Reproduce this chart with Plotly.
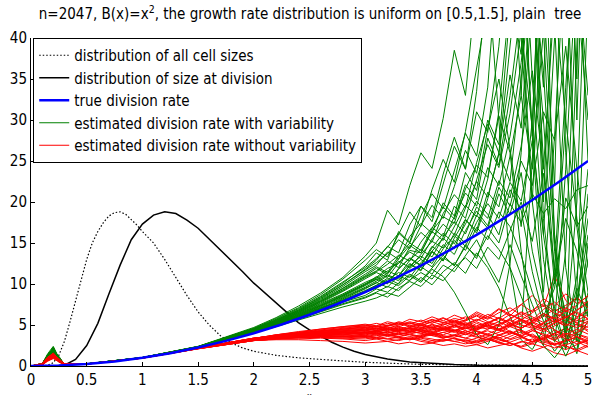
import plotly.graph_objects as go

# ---------------- data ----------------
# size distributions
x_all = [0, 0.1, 0.15, 0.2, 0.25, 0.3, 0.35, 0.4, 0.45, 0.5, 0.55, 0.6, 0.65, 0.7, 0.75, 0.8, 0.85, 0.9,
         0.95, 1.0, 1.1, 1.2, 1.3, 1.4, 1.5, 1.6, 1.7, 1.8, 1.9, 2.0, 2.2, 2.4, 2.6, 2.8, 3.0, 3.5, 4.0, 4.5, 5.0]
dens_all = [0, 0, 0.1, 0.4, 1.3, 3.0, 5.4, 8.0, 10.7, 13.0, 15.0, 16.4, 17.5, 18.3, 18.7, 18.8, 18.5, 17.9,
            17.2, 16.4, 15.0, 13.0, 10.8, 8.6, 6.6, 5.0, 3.7, 2.8, 2.2, 1.8, 1.3, 1.0, 0.8, 0.6, 0.45, 0.2, 0.1, 0.05, 0.02]

x_div = [0, 0.1, 0.2, 0.3, 0.4, 0.5, 0.6, 0.7, 0.8, 0.9, 1.0, 1.1, 1.2, 1.3, 1.4, 1.5, 1.6, 1.7, 1.8, 1.9,
         2.0, 2.1, 2.2, 2.3, 2.4, 2.5, 2.6, 2.7, 2.8, 2.9, 3.0, 3.2, 3.4, 3.6, 3.8, 4.0, 4.5, 5.0]
dens_div = [0, 0, 0, 0.1, 0.8, 2.5, 5.2, 8.8, 12.3, 15.4, 17.3, 18.4, 18.8, 18.6, 17.8, 16.8, 15.5, 14.2, 12.9, 11.5,
            10.1, 8.9, 7.6, 6.4, 5.3, 4.4, 3.6, 2.9, 2.3, 1.8, 1.4, 0.85, 0.5, 0.3, 0.18, 0.1, 0.03, 0]

# true division rate
x_true = [0, 0.25, 0.5, 0.75, 1.0, 1.25, 1.5, 1.75, 2.0, 2.25, 2.5, 2.75, 3.0, 3.25, 3.5, 3.75, 4.0, 4.25, 4.5, 4.75, 5.0]
b_true = [0, 0.06, 0.25, 0.56, 1.0, 1.56, 2.25, 3.06, 4.0, 5.06, 6.25, 7.56, 9.0, 10.56, 12.25, 14.06, 16.0, 18.06,
          20.25, 22.56, 25.0]

# estimated rates (common x grid)
x_est = [0, 0.1, 0.15, 0.2, 0.25, 0.3, 0.5, 1.0, 1.5, 2.0, 2.2, 2.4, 2.6, 2.8, 3.0, 3.1, 3.2, 3.3, 3.4, 3.5,
         3.6, 3.7, 3.8, 3.9, 4.0, 4.1, 4.2, 4.3, 4.4, 4.5, 4.6, 4.7, 4.8, 4.9, 5.0]

green_01 = [0, 0.1, 1.1, 2.3, 0.8, 0.25, 0.26, 1.02, 2.33, 4.3, 5.3, 6.4, 7.6, 8.8, 10.2, 10.8, 11.9, 12.5, 14.1, 13.8, 16.5, 18.2, 17.4, 21.6, 24.5, 23.0, 31.0, 45, 38, 62, 20, 55, 80, 30, 70]
green_02 = [0, 0.2, 1.4, 1.9, 0.6, 0.3, 0.25, 1.01, 2.29, 4.1, 4.9, 5.9, 6.9, 7.8, 8.6, 9.4, 9.0, 10.1, 11.2, 10.4, 12.0, 13.5, 12.2, 14.8, 13.1, 16.9, 15.0, 19.8, 17.5, 21.0, 18.6, 20.4, 19.2, 21.5, 22.0]
green_03 = [0, 0.1, 0.8, 1.6, 1.2, 0.2, 0.27, 1.03, 2.36, 4.5, 5.6, 6.8, 8.2, 9.9, 11.8, 12.9, 14.6, 13.8, 17.2, 19.5, 18.1, 23.4, 27.9, 24.0, 33.5, 48, 30, 12, 4, 25, 60, 15, 3, 40, 75]
green_04 = [0, 0.3, 1.3, 2.1, 0.5, 0.2, 0.25, 1.0, 2.30, 4.2, 5.1, 6.1, 7.1, 8.0, 9.1, 9.8, 10.7, 10.0, 12.4, 11.6, 13.9, 12.8, 15.6, 17.9, 16.2, 20.4, 26.0, 22.5, 35.0, 50, 18, 6, 2, 9, 45]
green_05 = [0, 0.1, 0.9, 1.2, 0.9, 0.3, 0.25, 0.99, 2.27, 4.0, 4.8, 5.6, 6.4, 7.2, 7.9, 8.3, 8.9, 8.5, 9.6, 10.8, 9.9, 11.5, 12.6, 11.3, 13.8, 12.0, 9.5, 6.0, 3.2, 2.0, 4.5, 10.5, 18.0, 14.0, 7.0]
green_06 = [0, 0.2, 1.5, 2.4, 1.0, 0.2, 0.27, 1.04, 2.38, 4.6, 5.8, 7.1, 8.7, 10.6, 12.9, 14.2, 13.3, 16.0, 18.8, 17.0, 21.5, 25.2, 22.4, 28.6, 36.0, 44, 62, 75, 40, 20, 50, 85, 60, 35, 90]
green_07 = [0, 0.1, 1.0, 1.8, 0.7, 0.3, 0.26, 1.02, 2.33, 4.4, 5.4, 6.6, 7.9, 9.3, 10.9, 11.6, 12.8, 12.0, 14.5, 16.3, 15.1, 18.6, 20.9, 19.3, 24.8, 29.5, 26.0, 38, 52, 28, 8, 3, 14, 46, 30]
green_08 = [0, 0.2, 1.2, 1.5, 1.1, 0.2, 0.25, 1.01, 2.31, 4.2, 5.0, 6.0, 7.0, 8.2, 9.4, 10.2, 9.6, 11.0, 12.5, 11.7, 14.0, 15.6, 14.3, 17.8, 16.5, 21.2, 19.4, 25.6, 33.0, 24.0, 41, 16, 5, 1.5, 8]
green_09 = [0, 0.1, 0.7, 2.0, 0.6, 0.2, 0.26, 1.02, 2.32, 4.3, 5.2, 6.3, 7.4, 8.5, 9.8, 10.5, 11.3, 12.8, 12.0, 13.6, 15.2, 14.4, 17.0, 19.6, 18.2, 22.8, 30.5, 26.0, 14, 5, 2.5, 12, 34, 55, 40]
green_10 = [0, 0.2, 1.1, 1.3, 0.8, 0.3, 0.25, 1.0, 2.28, 4.1, 5.0, 5.8, 6.7, 7.6, 8.4, 9.0, 9.7, 9.2, 10.5, 11.4, 10.6, 12.3, 11.5, 13.5, 15.4, 12.6, 10.2, 14.8, 11.0, 7.5, 4.0, 1.8, 3.5, 11.0, 24]
green_11 = [0, 0.1, 1.3, 2.2, 0.9, 0.2, 0.28, 1.05, 2.40, 4.7, 5.9, 7.3, 8.9, 10.8, 13.4, 15.0, 19.0, 17.2, 22.0, 26.0, 24.1, 30.2, 38.5, 33.0, 47, 58, 42, 70, 55, 28, 65, 80, 48, 95, 60]
green_12 = [0, 0.2, 0.9, 1.7, 1.0, 0.3, 0.26, 1.03, 2.35, 4.4, 5.5, 6.7, 8.0, 9.5, 11.2, 12.1, 11.4, 13.4, 15.0, 14.1, 16.8, 19.4, 17.9, 22.1, 20.3, 27.8, 24.5, 33.0, 44, 20, 9, 28, 52, 17, 6]
green_13 = [0, 0.1, 1.0, 1.4, 0.6, 0.2, 0.25, 0.99, 2.27, 4.0, 4.9, 5.7, 6.6, 7.5, 8.3, 8.9, 8.4, 9.5, 10.3, 9.7, 11.1, 10.4, 12.0, 13.2, 11.9, 14.5, 13.0, 16.4, 20.0, 15.2, 23.5, 12.0, 6.5, 3.0, 5.5]
green_14 = [0, 0.3, 1.4, 2.0, 0.8, 0.2, 0.27, 1.04, 2.37, 4.5, 5.6, 6.9, 8.4, 10.1, 12.2, 13.8, 12.9, 16.4, 15.1, 19.5, 17.6, 22.3, 26.8, 24.0, 31.0, 28.5, 39, 55, 33, 64, 45, 22, 70, 52, 88]
green_15 = [0, 0.1, 0.8, 1.6, 0.7, 0.3, 0.25, 1.01, 2.30, 4.2, 5.2, 6.2, 7.3, 8.6, 9.9, 10.9, 10.1, 11.8, 13.2, 12.3, 14.6, 13.5, 16.2, 15.0, 18.4, 16.8, 21.0, 18.5, 23.6, 14.0, 8.0, 4.2, 1.2, 4.0, 13.0]
green_16 = [0, 0.2, 1.2, 1.9, 1.1, 0.2, 0.26, 1.02, 2.33, 4.3, 5.3, 6.5, 7.7, 9.1, 10.6, 11.4, 10.8, 12.6, 13.9, 13.1, 15.5, 17.3, 16.0, 19.2, 22.5, 20.6, 25.9, 35.5, 29.0, 48, 36, 14, 4, 20, 58]
green_17 = [0, 0.1, 1.0, 1.7, 0.9, 0.2, 0.26, 1.02, 2.32, 4.2, 5.1, 6.0, 7.0, 8.0, 9.0, 9.6, 10.3, 9.8, 11.0, 10.2, 11.8, 10.9, 9.0, 6.5, 3.8, 2.6, 5.0, 12.5, 26.0, 45, 30, 11, 3.5, 2.0, 9.0]
green_18 = [0, 0.2, 1.1, 2.1, 0.7, 0.2, 0.26, 1.02, 2.34, 4.4, 5.4, 6.5, 7.8, 9.2, 10.8, 11.5, 12.4, 13.5, 12.8, 15.1, 16.9, 15.8, 19.5, 18.0, 22.7, 27.0, 24.2, 30.8, 41, 29, 13, 5, 24, 50, 33]
green_19 = [0, 0.1, 0.9, 1.5, 1.0, 0.3, 0.25, 1.01, 2.30, 4.2, 5.1, 6.1, 7.2, 8.3, 9.5, 10.1, 11.0, 10.4, 11.9, 13.0, 12.1, 14.3, 15.9, 14.6, 17.5, 19.8, 18.0, 22.4, 20.1, 27.5, 16.0, 7.0, 2.2, 6.5, 21.0]
green_20 = [0, 0.2, 1.3, 2.2, 0.8, 0.2, 0.27, 1.03, 2.35, 4.5, 5.5, 6.7, 8.1, 9.7, 11.5, 12.3, 13.9, 13.0, 15.8, 17.4, 16.2, 19.9, 18.3, 23.6, 21.4, 28.9, 35.0, 26.5, 17.0, 30.0, 58, 42, 12, 3.0, 15.0]
green_21 = [0, 0.1, 1.0, 1.9, 0.6, 0.3, 0.26, 1.02, 2.32, 4.3, 5.2, 6.2, 7.3, 8.4, 9.6, 10.3, 11.1, 10.6, 12.2, 13.4, 12.5, 14.8, 13.6, 16.5, 18.9, 17.1, 21.8, 19.5, 25.0, 22.0, 31.0, 27.5, 39.0, 24.0, 12.0]
green_22 = [0, 0.2, 0.8, 1.4, 0.9, 0.2, 0.25, 1.0, 2.29, 4.1, 5.0, 5.9, 6.9, 7.9, 9.0, 9.5, 10.2, 11.0, 10.4, 12.1, 11.2, 13.2, 12.3, 14.6, 13.4, 15.9, 14.2, 12.0, 8.5, 5.0, 2.5, 1.0, 2.8, 7.5, 16.0]
green_23 = [0, 0.1, 1.2, 2.0, 1.0, 0.2, 0.27, 1.04, 2.37, 4.6, 5.7, 7.0, 8.5, 10.2, 12.0, 13.1, 14.5, 16.2, 15.0, 18.3, 21.0, 19.2, 23.8, 28.4, 25.6, 34.0, 52, 40, 65, 48, 25, 10, 30, 62, 45]
green_24 = [0, 0.2, 1.0, 1.6, 0.7, 0.3, 0.26, 1.02, 2.33, 4.3, 5.3, 6.4, 7.5, 8.7, 10.0, 10.7, 11.6, 11.0, 12.9, 14.2, 13.3, 15.7, 17.6, 16.1, 19.4, 18.0, 22.6, 20.5, 26.8, 36.0, 24.0, 45.0, 30.0, 18.0, 9.0]
green_25 = [0, 0.1, 0.9, 1.8, 0.8, 0.2, 0.25, 1.01, 2.31, 4.2, 5.1, 6.1, 7.1, 8.1, 9.2, 9.9, 10.5, 11.4, 10.8, 12.6, 14.0, 12.9, 15.3, 14.1, 16.9, 15.4, 18.8, 17.0, 13.5, 9.0, 5.5, 3.0, 4.8, 9.5, 6.0]
green_26 = [0, 0.3, 1.3, 2.3, 0.9, 0.2, 0.27, 1.03, 2.36, 4.5, 5.6, 6.8, 8.3, 9.9, 11.7, 12.6, 13.7, 15.4, 14.3, 17.1, 19.6, 18.0, 21.9, 26.3, 23.5, 30.0, 27.0, 44, 60, 35, 16, 40, 72, 55, 25]
green_27 = [0, 0.1, 1.1, 1.7, 0.6, 0.3, 0.26, 1.02, 2.32, 4.3, 5.2, 6.3, 7.4, 8.6, 9.9, 10.6, 10.0, 11.9, 13.1, 12.2, 14.4, 16.2, 14.9, 17.3, 20.1, 18.5, 16.0, 21.5, 19.0, 11.5, 6.0, 9.5, 20.5, 17.0, 19.5]
green_28 = [0, 0.2, 1.2, 2.0, 1.1, 0.2, 0.26, 1.03, 2.34, 4.4, 5.4, 6.6, 7.9, 9.4, 11.0, 11.9, 11.2, 13.1, 14.7, 13.8, 16.4, 15.3, 18.2, 21.1, 19.5, 24.2, 22.0, 28.0, 37.0, 50, 34, 70, 26, 8, 18]

red_01 = [0, 0.2, 0.9, 1.4, 0.6, 0.2, 0.24, 0.98, 2.18, 3.3, 3.6, 3.8, 4.0, 4.1, 4.3, 4.2, 4.4, 4.6, 4.3, 4.5, 4.8, 4.4, 4.7, 5.1, 4.6, 4.9, 5.4, 4.8, 5.2, 5.8, 5.0, 5.5, 6.1, 5.3, 5.7]
red_02 = [0, 0.1, 0.7, 1.1, 0.8, 0.3, 0.24, 0.97, 2.14, 3.2, 3.4, 3.5, 3.6, 3.7, 3.6, 3.8, 3.7, 3.9, 3.6, 3.8, 4.0, 3.7, 3.5, 3.9, 4.2, 3.8, 3.4, 3.9, 4.4, 3.7, 3.3, 4.0, 4.6, 3.9, 3.5]
red_03 = [0, 0.3, 1.1, 1.6, 0.7, 0.2, 0.25, 0.99, 2.22, 3.4, 3.8, 4.2, 4.5, 4.8, 5.0, 4.8, 5.2, 5.0, 5.4, 5.1, 5.6, 5.3, 5.8, 5.5, 6.2, 5.7, 6.5, 7.1, 6.2, 6.8, 7.6, 6.7, 7.4, 8.2, 7.5]
red_04 = [0, 0.1, 0.6, 0.9, 0.5, 0.2, 0.23, 0.96, 2.10, 3.1, 3.3, 3.3, 3.4, 3.3, 3.1, 3.3, 3.0, 3.2, 3.4, 3.0, 2.8, 3.1, 3.4, 2.9, 2.6, 3.0, 3.5, 2.8, 2.3, 2.7, 3.3, 2.5, 2.0, 2.6, 3.1]
red_05 = [0, 0.2, 1.0, 1.3, 0.9, 0.3, 0.24, 0.98, 2.19, 3.3, 3.6, 3.9, 4.1, 4.3, 4.5, 4.3, 4.7, 4.4, 4.9, 4.6, 5.1, 4.7, 5.3, 4.9, 4.5, 5.2, 5.8, 5.0, 4.6, 5.5, 6.4, 5.6, 4.8, 5.9, 6.6]
red_06 = [0, 0.1, 0.8, 1.2, 0.6, 0.2, 0.24, 0.97, 2.15, 3.2, 3.5, 3.7, 3.9, 3.8, 4.0, 3.9, 4.1, 3.8, 4.2, 4.0, 3.7, 4.1, 4.4, 3.9, 3.5, 3.2, 3.8, 4.3, 3.6, 3.0, 3.5, 4.4, 3.8, 3.1, 2.7]
red_07 = [0, 0.3, 1.2, 1.5, 0.8, 0.2, 0.25, 0.99, 2.21, 3.4, 3.7, 4.0, 4.3, 4.5, 4.7, 4.9, 4.6, 5.0, 5.3, 4.9, 5.4, 5.9, 5.2, 5.6, 6.4, 5.8, 6.9, 6.1, 7.5, 8.6, 7.2, 11.0, 8.0, 6.8, 7.6]
red_08 = [0, 0.2, 0.7, 1.0, 0.7, 0.3, 0.23, 0.96, 2.12, 3.2, 3.4, 3.6, 3.7, 3.6, 3.5, 3.7, 3.9, 3.6, 3.4, 3.7, 4.0, 3.6, 3.3, 3.0, 3.4, 3.9, 3.3, 2.8, 2.4, 3.0, 3.7, 3.1, 2.5, 1.8, 2.4]
red_09 = [0, 0.1, 0.9, 1.4, 0.5, 0.2, 0.24, 0.98, 2.19, 3.3, 3.6, 3.9, 4.2, 4.0, 4.4, 4.6, 4.3, 4.7, 4.5, 4.9, 4.6, 5.0, 5.4, 5.0, 5.6, 6.0, 5.4, 6.3, 5.7, 5.2, 6.0, 6.9, 6.2, 5.5, 6.3]
red_10 = [0, 0.2, 0.8, 1.2, 0.9, 0.2, 0.24, 0.97, 2.16, 3.2, 3.4, 3.6, 3.8, 4.0, 3.8, 4.0, 4.2, 3.9, 4.1, 4.4, 4.1, 3.8, 4.3, 4.7, 4.2, 3.7, 4.1, 4.8, 4.3, 3.6, 3.2, 3.9, 4.6, 4.0, 4.9]
red_11 = [0, 0.1, 1.0, 1.3, 0.6, 0.3, 0.24, 0.98, 2.17, 3.3, 3.5, 3.8, 4.0, 4.2, 4.4, 4.1, 4.5, 4.2, 4.6, 4.3, 4.0, 4.5, 4.2, 3.8, 4.4, 5.0, 4.4, 3.9, 4.6, 5.3, 4.5, 3.7, 4.3, 5.1, 4.2]
red_12 = [0, 0.2, 0.6, 1.0, 0.7, 0.2, 0.23, 0.95, 2.09, 3.1, 3.2, 3.2, 3.1, 3.0, 2.8, 2.9, 3.0, 2.7, 2.9, 2.6, 2.8, 2.5, 2.7, 2.4, 2.6, 2.2, 2.5, 2.8, 2.2, 1.8, 2.3, 1.6, 1.3, 1.9, 1.4]
red_13 = [0, 0.3, 1.1, 1.6, 0.8, 0.2, 0.25, 0.99, 2.23, 3.4, 3.8, 4.1, 4.4, 4.7, 4.9, 5.2, 4.9, 5.4, 5.1, 5.6, 5.2, 5.8, 5.4, 6.0, 5.5, 6.3, 5.8, 6.7, 7.5, 6.6, 8.2, 7.3, 8.8, 7.6, 8.5]
red_14 = [0, 0.1, 0.8, 1.3, 0.5, 0.2, 0.24, 0.97, 2.16, 3.2, 3.5, 3.7, 3.8, 3.9, 4.1, 3.9, 4.2, 4.5, 4.2, 4.0, 4.4, 4.8, 4.4, 4.1, 4.6, 5.1, 4.5, 4.9, 5.5, 4.7, 4.2, 4.9, 5.6, 5.0, 4.4]
red_15 = [0, 0.2, 0.9, 1.1, 0.8, 0.3, 0.24, 0.97, 2.15, 3.3, 3.5, 3.7, 3.8, 3.6, 3.9, 4.1, 3.8, 3.6, 3.9, 4.2, 3.7, 3.4, 3.8, 4.3, 3.9, 3.4, 3.0, 3.6, 4.2, 3.5, 2.9, 2.6, 3.2, 3.9, 3.3]
red_16 = [0, 0.1, 1.0, 1.5, 0.7, 0.2, 0.25, 0.99, 2.20, 3.4, 3.7, 3.9, 4.2, 4.5, 4.8, 4.5, 4.9, 5.3, 4.9, 5.2, 5.7, 5.3, 5.0, 5.5, 6.1, 5.4, 5.0, 5.8, 6.6, 6.0, 5.3, 6.2, 7.1, 6.4, 5.8]
red_17 = [0, 0.2, 0.7, 1.2, 0.6, 0.2, 0.23, 0.96, 2.13, 3.2, 3.4, 3.5, 3.5, 3.4, 3.6, 3.4, 3.3, 3.5, 3.2, 3.4, 3.1, 3.3, 3.0, 3.2, 2.9, 3.3, 2.8, 3.2, 3.6, 2.9, 3.4, 2.7, 3.1, 3.5, 2.8]
red_18 = [0, 0.1, 0.9, 1.4, 0.9, 0.3, 0.24, 0.98, 2.18, 3.3, 3.6, 3.8, 4.0, 4.2, 4.1, 4.3, 4.5, 4.2, 4.4, 4.7, 4.4, 4.6, 5.0, 4.6, 4.9, 5.3, 4.8, 5.7, 6.5, 5.6, 6.9, 7.8, 6.6, 7.4, 8.6]
red_19 = [0, 0.2, 1.0, 1.5, 0.7, 0.2, 0.24, 0.98, 2.19, 3.3, 3.6, 3.9, 4.1, 4.4, 4.6, 4.4, 4.8, 4.5, 4.2, 4.6, 5.0, 4.6, 4.3, 4.9, 5.4, 4.8, 4.4, 5.1, 5.7, 5.0, 4.5, 5.3, 6.0, 5.2, 4.7]
red_20 = [0, 0.1, 0.8, 1.2, 0.6, 0.2, 0.24, 0.97, 2.15, 3.2, 3.5, 3.7, 3.9, 4.1, 3.9, 4.2, 4.0, 4.3, 4.6, 4.2, 3.9, 4.4, 4.9, 4.3, 3.8, 4.5, 5.0, 4.2, 3.6, 4.3, 5.2, 4.4, 3.5, 4.1, 5.3]
red_21 = [0, 0.2, 0.9, 1.3, 0.8, 0.3, 0.24, 0.98, 2.17, 3.3, 3.5, 3.7, 3.9, 4.0, 4.2, 4.0, 3.8, 4.1, 3.9, 3.6, 3.9, 3.5, 3.8, 3.4, 3.1, 3.6, 3.2, 2.9, 3.4, 3.9, 3.1, 2.6, 3.0, 3.6, 2.9]
red_22 = [0, 0.3, 1.2, 1.6, 0.7, 0.2, 0.25, 0.99, 2.22, 3.4, 3.8, 4.1, 4.5, 4.8, 5.1, 4.9, 5.4, 5.1, 5.7, 5.4, 6.0, 5.5, 6.2, 5.7, 6.6, 6.0, 7.0, 6.3, 5.6, 6.5, 7.4, 6.4, 5.9, 6.8, 7.9]
red_23 = [0, 0.1, 0.7, 1.1, 0.5, 0.2, 0.23, 0.96, 2.11, 3.1, 3.3, 3.4, 3.5, 3.4, 3.3, 3.5, 3.3, 3.1, 3.4, 3.2, 2.9, 3.2, 3.0, 2.7, 3.0, 3.3, 2.8, 2.5, 2.9, 3.3, 2.7, 2.2, 2.6, 3.0, 2.3]
red_24 = [0, 0.2, 1.1, 1.4, 0.9, 0.2, 0.25, 0.98, 2.20, 3.3, 3.7, 4.0, 4.3, 4.5, 4.7, 4.5, 4.9, 5.2, 4.8, 5.1, 4.7, 5.2, 5.6, 5.1, 4.7, 5.3, 5.9, 5.2, 4.6, 5.4, 6.2, 5.3, 7.0, 8.4, 7.1]
red_25 = [0, 0.1, 0.9, 1.3, 0.6, 0.3, 0.24, 0.97, 2.16, 3.2, 3.5, 3.7, 3.9, 3.8, 4.1, 4.3, 4.0, 4.4, 4.1, 4.5, 4.2, 4.6, 4.3, 4.8, 4.4, 4.9, 4.5, 5.2, 4.6, 5.4, 4.8, 5.6, 4.9, 5.8, 5.1]
red_26 = [0, 0.2, 0.8, 1.0, 0.7, 0.2, 0.23, 0.96, 2.12, 3.1, 3.3, 3.5, 3.6, 3.5, 3.7, 3.5, 3.8, 3.5, 3.3, 3.6, 3.9, 3.4, 3.7, 4.1, 3.6, 3.2, 3.7, 4.2, 3.5, 2.9, 3.4, 4.0, 3.3, 2.7, 3.2]
red_27 = [0, 0.1, 1.0, 1.4, 0.8, 0.2, 0.24, 0.98, 2.18, 3.3, 3.6, 3.8, 4.0, 4.3, 4.5, 4.8, 4.5, 4.3, 4.7, 5.0, 4.6, 4.4, 4.9, 5.3, 4.8, 4.5, 5.1, 5.6, 5.0, 4.6, 5.3, 5.9, 5.1, 4.7, 5.5]
red_28 = [0, 0.3, 1.1, 1.5, 0.6, 0.2, 0.25, 0.99, 2.21, 3.4, 3.7, 4.0, 4.2, 4.4, 4.3, 4.6, 4.4, 4.8, 4.5, 4.2, 4.7, 4.4, 4.1, 4.6, 4.3, 3.9, 4.5, 4.1, 3.7, 4.3, 3.9, 3.4, 4.0, 3.6, 3.1]
red_29 = [0, 0.2, 0.9, 1.2, 0.9, 0.3, 0.24, 0.97, 2.15, 3.2, 3.5, 3.8, 4.0, 4.2, 4.0, 4.3, 4.6, 4.3, 4.7, 4.4, 4.1, 4.5, 4.9, 4.5, 5.2, 4.7, 4.3, 5.0, 5.6, 4.9, 4.4, 5.2, 5.9, 6.6, 5.7]
red_30 = [0, 0.1, 0.8, 1.3, 0.7, 0.2, 0.24, 0.97, 2.14, 3.2, 3.4, 3.6, 3.7, 3.8, 3.7, 3.9, 3.7, 4.0, 3.8, 3.5, 3.8, 4.1, 3.7, 3.4, 3.9, 4.3, 3.8, 3.3, 3.9, 4.5, 3.7, 3.2, 3.8, 4.5, 3.9]
red_31 = [0, 0.2, 1.0, 1.6, 0.8, 0.2, 0.25, 0.99, 2.20, 3.4, 3.7, 4.0, 4.3, 4.6, 4.9, 4.7, 5.0, 4.8, 5.2, 4.9, 5.4, 5.0, 5.5, 5.1, 5.7, 5.2, 5.9, 5.3, 6.1, 5.5, 6.4, 5.8, 6.8, 6.0, 6.9]
red_32 = [0, 0.1, 0.7, 1.0, 0.6, 0.3, 0.23, 0.96, 2.12, 3.1, 3.3, 3.5, 3.6, 3.6, 3.5, 3.3, 3.6, 3.4, 3.2, 3.5, 3.3, 3.0, 3.4, 3.1, 2.8, 3.2, 2.9, 2.5, 3.0, 2.7, 2.3, 2.8, 2.4, 2.0, 2.6]

green_curves = [green_01, green_02, green_03, green_04, green_05, green_06, green_07, green_08, green_09,
                green_10, green_11, green_12, green_13, green_14, green_15, green_16, green_17, green_18,
                green_19, green_20, green_21, green_22, green_23, green_24, green_25, green_26, green_27, green_28]
red_curves = [red_01, red_02, red_03, red_04, red_05, red_06, red_07, red_08, red_09, red_10, red_11,
              red_12, red_13, red_14, red_15, red_16, red_17, red_18, red_19, red_20, red_21, red_22,
              red_23, red_24, red_25, red_26, red_27, red_28, red_29, red_30, red_31, red_32]

x_ticks = [0, 0.5, 1, 1.5, 2, 2.5, 3, 3.5, 4, 4.5, 5]
x_ticklabels = ["0", "0.5", "1", "1.5", "2", "2.5", "3", "3.5", "4", "4.5", "5"]
y_ticks = [0, 5, 10, 15, 20, 25, 30, 35, 40]

legend_labels = ["distribution of all cell sizes", "distribution of size at division", "true division rate",
                 "estimated division rate with variability", "estimated division rate without variability"]

title_text = "n=2047, B(x)=x<sup>2</sup>, the growth rate distribution is uniform on [0.5,1.5], plain\u00a0 tree"

# ---------------- figure ----------------
FONT = "Liberation Sans Narrow, Arial Narrow, DejaVu Sans Condensed, sans-serif"
fig = go.Figure()

fig.add_trace(go.Scatter(x=x_all, y=dens_all, mode="lines", name=legend_labels[0],
                         line=dict(color="black", width=1.2, dash="1.5px,2px"), legendrank=1))
fig.add_trace(go.Scatter(x=x_div, y=dens_div, mode="lines", name=legend_labels[1],
                         line=dict(color="black", width=1.5), legendrank=2))

n = max(len(green_curves), len(red_curves))
for i in range(n):
    if i < len(green_curves):
        fig.add_trace(go.Scatter(x=x_est, y=green_curves[i], mode="lines", name=legend_labels[3],
                                 legendgroup="g", showlegend=(i == 0), legendrank=4,
                                 line=dict(color="#008000", width=1)))
    if i < len(red_curves):
        fig.add_trace(go.Scatter(x=x_est, y=red_curves[i], mode="lines", name=legend_labels[4],
                                 legendgroup="r", showlegend=(i == 0), legendrank=5,
                                 line=dict(color="#ff0000", width=1)))

fig.add_trace(go.Scatter(x=x_true, y=b_true, mode="lines", name=legend_labels[2],
                         line=dict(color="#0000ff", width=2.5), legendrank=3))

fig.update_layout(
    width=594, height=395,
    margin=dict(l=31, r=2, t=38, b=29),
    paper_bgcolor="white", plot_bgcolor="white",
    font=dict(family=FONT, size=15, color="black"),
    title=dict(text=title_text, x=0.522, xanchor="center", y=1 - 14 / 395, yanchor="middle",
               yref="container", font=dict(family=FONT, size=15, color="black")),
    legend=dict(x=0.004, y=1.0, xanchor="left", yanchor="top", bgcolor="white",
                bordercolor="black", borderwidth=1, itemwidth=30, tracegroupgap=0,
                font=dict(family=FONT, size=15, color="black")),
    xaxis=dict(range=[0, 5], tickvals=x_ticks, ticktext=x_ticklabels, ticks="inside", ticklen=4,
               tickcolor="black", showline=True, linecolor="black", linewidth=1, showgrid=False,
               zeroline=False, ticklabeloverflow="allow", tickfont=dict(family=FONT, size=15)),
    yaxis=dict(range=[0, 40], tickvals=y_ticks, ticks="inside", ticklen=4, tickcolor="black",
               showline=True, linecolor="black", linewidth=1, showgrid=False, zeroline=False,
               ticklabeloverflow="allow", tickfont=dict(family=FONT, size=15)),
)

fig.add_annotation(text="x", x=2.5, xref="x", y=0, yref="paper", yanchor="top", yshift=-23,
                   showarrow=False, font=dict(family=FONT, size=9, color="black"))

fig.write_html("out.html", config={"displayModeBar": False},
               post_script="document.body.style.margin='0';document.body.style.overflow='hidden';")
